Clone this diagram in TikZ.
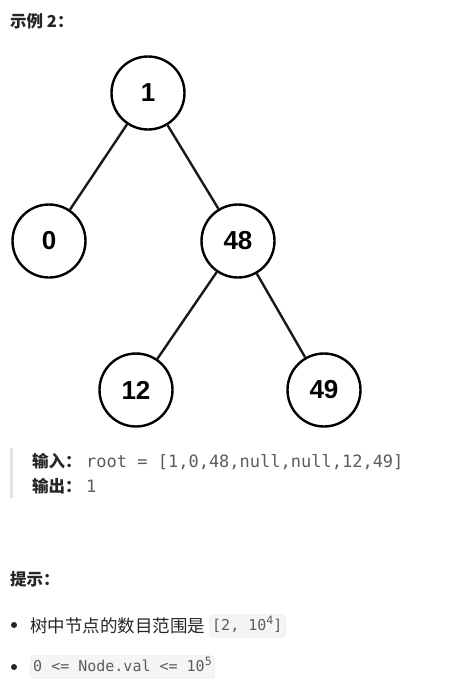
\documentclass[tikz,border=0pt]{standalone}
\usepackage{fontspec}
\setmainfont{Liberation Sans}
\setmonofont{DejaVu Sans Mono}
\newfontfamily\cjk{Noto Sans CJK SC}
\usetikzlibrary{positioning}

\definecolor{textdark}{HTML}{262626}
\definecolor{codegray}{HTML}{5C5C5C}
\definecolor{codebg}{HTML}{F5F5F5}
\definecolor{codeline}{HTML}{E5E5E5}
\definecolor{quotebar}{HTML}{E3E3E3}

\begin{document}
\begin{tikzpicture}[
    x=1pt, y=-1pt,
    treenode/.style={circle, draw=black, line width=2.4pt, minimum size=73pt, inner sep=0pt, font=\fontsize{26}{26}\selectfont\bfseries},
    edge/.style={line width=2.4pt, black!90},
    heading/.style={anchor=base west, inner sep=0pt, text=textdark, font=\cjk\fontsize{16.5}{16.5}\selectfont\bfseries},
    pretext/.style={anchor=base west, inner sep=0pt, text=codegray, font=\ttfamily\fontsize{17}{17}\selectfont},
    plain/.style={anchor=base west, inner sep=0pt, text=textdark, font=\cjk\fontsize{17.5}{17.5}\selectfont},
    codebox/.style={anchor=west, fill=codebg, draw=codeline, rounded corners=4pt, text=codegray, font=\ttfamily\fontsize{15}{15}\selectfont, text height=11pt, text depth=3pt, inner xsep=3pt, inner ysep=4.5pt}
]
\useasboundingbox (0,0) rectangle (467,691);

% Title
\node[heading] (title) at (10,27) {示例 2：};

% Tree
\node[treenode] (n1) at (148,93) {1};
\node[treenode] (n0) at (49,241) {0};
\node[treenode] (n48) at (238,241) {48};
\node[treenode] (n12) at (136,390) {12};
\node[treenode] (n49) at (324,390) {49};

\draw[edge] (n1) -- (n0);
\draw[edge] (n1) -- (n48);
\draw[edge] (n48) -- (n12);
\draw[edge] (n48) -- (n49);

% Input / output block
\fill[quotebar] (10,448) rectangle (12.5,498);
\node[heading] (inlabel) at (32,467) {输入：};
\node[pretext] (input) at (86,467) {root = [1,0,48,null,null,12,49]};
\node[heading] (outlabel) at (32,492) {输出：};
\node[pretext] (output) at (86,492) {1};

% Hints
\node[heading] (hint) at (10,585) {提示：};
\fill[textdark] (14,625) circle (3pt);
\node[plain] (range) at (30,632) {树中节点的数目范围是};
\node[codebox] (rangecode) at (209,626) {[2, 10\raisebox{6pt}{\fontsize{11.5}{11.5}\selectfont 4}]};
\fill[textdark] (14,667) circle (3pt);
\node[codebox] (valcode) at (30,667) {0 <= Node.val <= 10\raisebox{6pt}{\fontsize{11.5}{11.5}\selectfont 5}};

\end{tikzpicture}
\end{document}
